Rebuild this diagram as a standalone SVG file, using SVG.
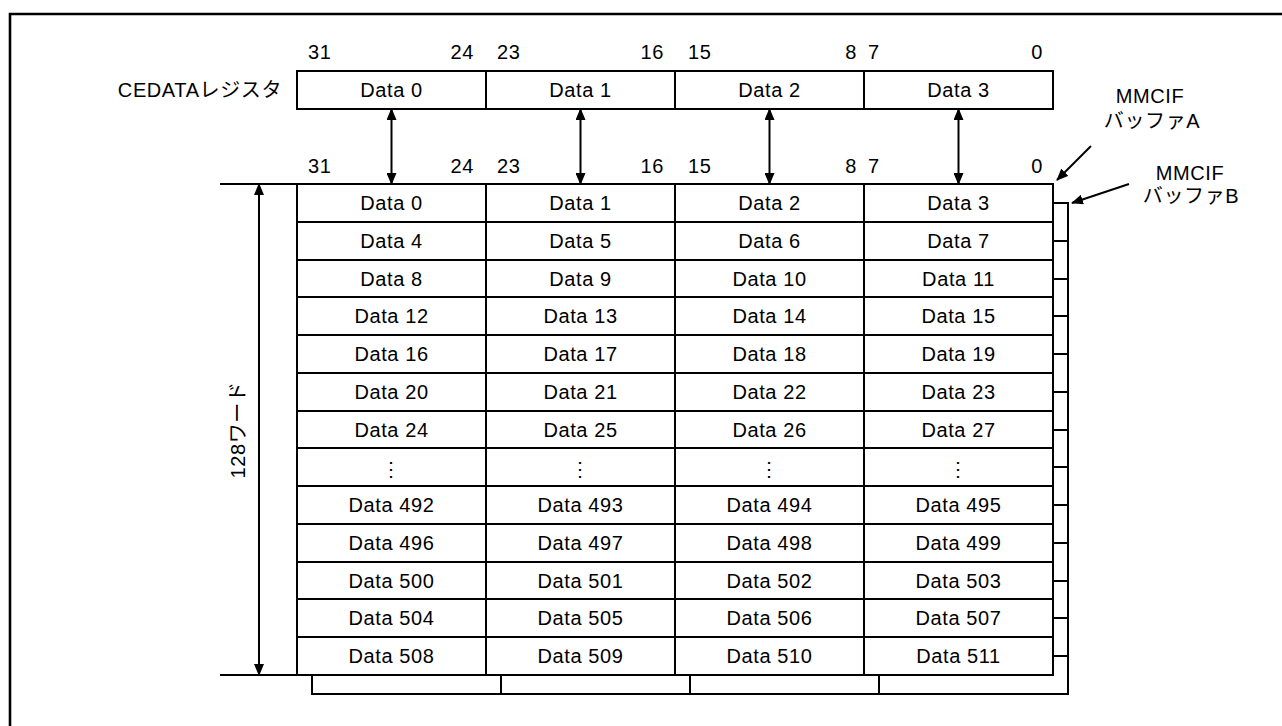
<svg xmlns="http://www.w3.org/2000/svg" width="1282" height="726" viewBox="0 0 1282 726">
<style>
text{font-family:"Liberation Sans","Noto Sans CJK JP",sans-serif;font-size:20px;fill:#000;letter-spacing:0.6px}
.c{text-anchor:middle}
.e{text-anchor:end}
.cell{fill:#fff;stroke:#000;stroke-width:2}
.ln{fill:none;stroke:#000;stroke-width:2}
.ar{fill:none;stroke:#000;stroke-width:2;marker-start:url(#ah);marker-end:url(#ah)}
</style>
<defs>
<marker id="ah" viewBox="0 0 12 10" refX="11" refY="5" markerWidth="12" markerHeight="10" markerUnits="userSpaceOnUse" orient="auto-start-reverse">
<path d="M0,0 L12,5 L0,10 z" fill="#000"/>
</marker>
</defs>
<rect width="1282" height="726" fill="#fff"/>
<path d="M10,726 V14 H1282" fill="none" stroke="#000" stroke-width="2.6"/>

<g id="bit-labels-top">
<text x="308" y="59">31</text><text x="474" y="59" class="e">24</text>
<text x="497" y="59">23</text><text x="664" y="59" class="e">16</text>
<text x="688" y="59">15</text><text x="857" y="59" class="e">8</text>
<text x="868" y="59">7</text><text x="1043" y="59" class="e">0</text>
</g>
<g id="register">
<text x="282" y="97" class="e">CEDATAレジスタ</text>
<rect class="cell" x="297" y="71" width="756" height="38"/>
<path class="ln" d="M486,71 V109 M675,71 V109 M864,71 V109"/>
<text x="391.5" y="97" class="c">Data 0</text>
<text x="580.5" y="97" class="c">Data 1</text>
<text x="769.5" y="97" class="c">Data 2</text>
<text x="958.5" y="97" class="c">Data 3</text>
</g>
<g id="bit-labels-buffer">
<text x="308" y="173">31</text><text x="474" y="173" class="e">24</text>
<text x="497" y="173">23</text><text x="664" y="173" class="e">16</text>
<text x="688" y="173">15</text><text x="857" y="173" class="e">8</text>
<text x="868" y="173">7</text><text x="1043" y="173" class="e">0</text>
</g>

<g id="buffer-b">
<rect class="cell" x="312" y="203" width="756" height="491"/>
<path class="ln" d="M501,675 V694 M690,675 V694 M879,675 V694 M1053,241 H1068 M1053,279 H1068 M1053,316 H1068 M1053,354 H1068 M1053,392 H1068 M1053,430 H1068 M1053,467 H1068 M1053,505 H1068 M1053,543 H1068 M1053,581 H1068 M1053,618 H1068 M1053,656 H1068"/>
</g>

<g id="buffer-a">
<rect class="cell" x="297" y="184" width="756" height="491"/>
<path class="ln" d="M486,184 V675 M675,184 V675 M864,184 V675 M297,222 H1053 M297,260 H1053 M297,297 H1053 M297,335 H1053 M297,373 H1053 M297,411 H1053 M297,448 H1053 M297,486 H1053 M297,524 H1053 M297,562 H1053 M297,599 H1053 M297,637 H1053"/>
<g class="c">
<text x="391.5" y="210" class="c">Data 0</text><text x="580.5" y="210" class="c">Data 1</text><text x="769.5" y="210" class="c">Data 2</text><text x="958.5" y="210" class="c">Data 3</text>
<text x="391.5" y="248" class="c">Data 4</text><text x="580.5" y="248" class="c">Data 5</text><text x="769.5" y="248" class="c">Data 6</text><text x="958.5" y="248" class="c">Data 7</text>
<text x="391.5" y="286" class="c">Data 8</text><text x="580.5" y="286" class="c">Data 9</text><text x="769.5" y="286" class="c">Data 10</text><text x="958.5" y="286" class="c">Data 11</text>
<text x="391.5" y="323" class="c">Data 12</text><text x="580.5" y="323" class="c">Data 13</text><text x="769.5" y="323" class="c">Data 14</text><text x="958.5" y="323" class="c">Data 15</text>
<text x="391.5" y="361" class="c">Data 16</text><text x="580.5" y="361" class="c">Data 17</text><text x="769.5" y="361" class="c">Data 18</text><text x="958.5" y="361" class="c">Data 19</text>
<text x="391.5" y="399" class="c">Data 20</text><text x="580.5" y="399" class="c">Data 21</text><text x="769.5" y="399" class="c">Data 22</text><text x="958.5" y="399" class="c">Data 23</text>
<text x="391.5" y="437" class="c">Data 24</text><text x="580.5" y="437" class="c">Data 25</text><text x="769.5" y="437" class="c">Data 26</text><text x="958.5" y="437" class="c">Data 27</text>
<text x="391.5" y="476" class="c">⋮</text><text x="580.5" y="476" class="c">⋮</text><text x="769.5" y="476" class="c">⋮</text><text x="958.5" y="476" class="c">⋮</text>
<text x="391.5" y="512" class="c">Data 492</text><text x="580.5" y="512" class="c">Data 493</text><text x="769.5" y="512" class="c">Data 494</text><text x="958.5" y="512" class="c">Data 495</text>
<text x="391.5" y="550" class="c">Data 496</text><text x="580.5" y="550" class="c">Data 497</text><text x="769.5" y="550" class="c">Data 498</text><text x="958.5" y="550" class="c">Data 499</text>
<text x="391.5" y="588" class="c">Data 500</text><text x="580.5" y="588" class="c">Data 501</text><text x="769.5" y="588" class="c">Data 502</text><text x="958.5" y="588" class="c">Data 503</text>
<text x="391.5" y="625" class="c">Data 504</text><text x="580.5" y="625" class="c">Data 505</text><text x="769.5" y="625" class="c">Data 506</text><text x="958.5" y="625" class="c">Data 507</text>
<text x="391.5" y="663" class="c">Data 508</text><text x="580.5" y="663" class="c">Data 509</text><text x="769.5" y="663" class="c">Data 510</text><text x="958.5" y="663" class="c">Data 511</text>
</g>
</g>

<g id="dimension">
<path class="ln" d="M220,184 H297 M220,675 H297"/>
<text transform="translate(245,430) rotate(-90)" class="c">128ワード</text>
</g>

<g id="label-buffer-a">
<text x="1150" y="103" class="c">MMCIF</text>
<text x="1152" y="128" class="c">バッファA</text>
</g>
<g id="label-buffer-b">
<text x="1190" y="180" class="c">MMCIF</text>
<text x="1191" y="203" class="c">バッファB</text>
</g>

<g id="connectors">
<line class="ar" x1="391.5" y1="109" x2="391.5" y2="184"/>
<line class="ar" x1="580.5" y1="109" x2="580.5" y2="184"/>
<line class="ar" x1="769.5" y1="109" x2="769.5" y2="184"/>
<line class="ar" x1="958.5" y1="109" x2="958.5" y2="184"/>
<line class="ar" x1="259" y1="184" x2="259" y2="675"/>
<line class="ln" x1="1091" y1="146" x2="1057" y2="180" marker-end="url(#ah)"/>
<line class="ln" x1="1129" y1="184" x2="1072" y2="203" marker-end="url(#ah)"/>
</g>
</svg>
